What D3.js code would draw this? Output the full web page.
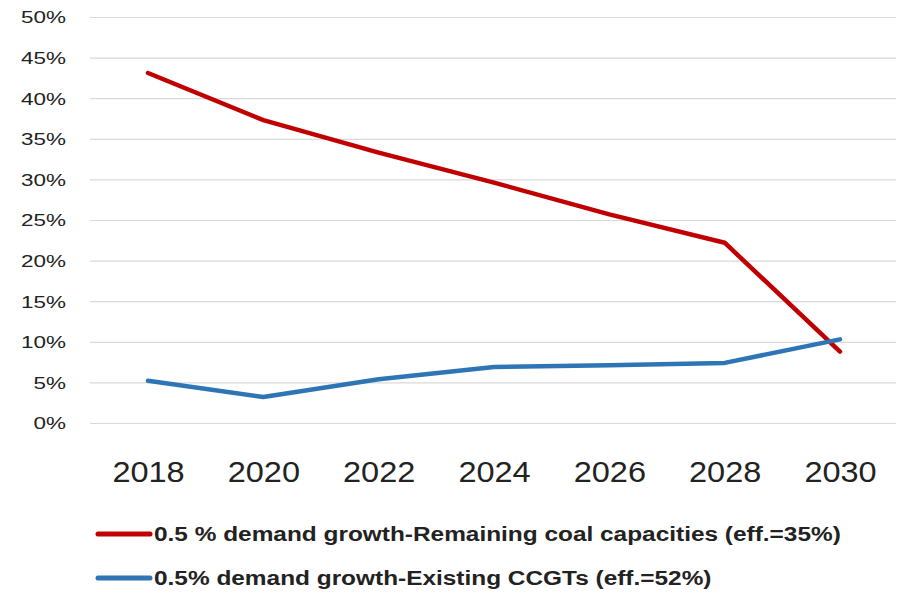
<!DOCTYPE html>
<html>
<head>
<meta charset="utf-8">
<script src="https://cdn.jsdelivr.net/npm/d3@7"></script>
<style>
  body { margin: 0; background: #fff; }
  text { font-family: "Liberation Sans", Arial, sans-serif; fill: #222; }
</style>
</head>
<body>
<div id="chart"></div>
<script>
// data
var years = [2018, 2020, 2022, 2024, 2026, 2028, 2030];
var coalShare = [0.431, 0.373, 0.333, 0.296, 0.257, 0.222, 0.088];
var ccgtShare = [0.052, 0.032, 0.054, 0.069, 0.071, 0.074, 0.103];
var yTicks = [0, 0.05, 0.10, 0.15, 0.20, 0.25, 0.30, 0.35, 0.40, 0.45, 0.50];
var seriesNames = [
  "0.5 % demand growth-Remaining coal capacities (eff.=35%)",
  "0.5% demand growth-Existing CCGTs (eff.=52%)"
];
var seriesColors = ["#C00000", "#2E75B6"];

var svg = d3.select("#chart")
  .append("svg")
  .attr("width", 901).attr("height", 596);

var x = d3.scalePoint().domain(years).range([148, 840]);
var y = d3.scaleLinear().domain([0, 0.5]).range([423, 17]);

// stretch text horizontally like the source image
function stretch(sel, k) {
  sel.each(function() {
    var w = this.getComputedTextLength();
    d3.select(this).attr("textLength", w * k).attr("lengthAdjust", "spacingAndGlyphs");
  });
}

// gridlines + y labels
var yAxis = svg.append("g")
  .attr("transform", "translate(90,0)")
  .call(d3.axisLeft(y).tickValues(yTicks).tickSize(-806).tickPadding(24)
    .tickFormat(d3.format(".0%")));
yAxis.select(".domain").remove();
yAxis.selectAll("line").attr("stroke", "#d9d9d9").attr("stroke-width", 1.2);
yAxis.selectAll("text").attr("font-size", 17).attr("dy", "0.35em")
  .style("font-family", "Liberation Sans, Arial, sans-serif").attr("fill", "#222");
stretch(yAxis.selectAll("text"), 1.32);

// x labels
var xAxis = svg.append("g")
  .attr("transform", "translate(0,440)")
  .call(d3.axisBottom(x).tickSize(0).tickPadding(0));
xAxis.select(".domain").remove();
xAxis.selectAll("text").attr("font-size", 29).attr("dy", "1.45em")
  .style("font-family", "Liberation Sans, Arial, sans-serif").attr("fill", "#222");
stretch(xAxis.selectAll("text"), 1.12);

var line = d3.line()
  .x(function(d, i) { return x(years[i]); })
  .y(function(d) { return y(d); });

svg.append("path").datum(coalShare)
  .attr("d", line).attr("fill", "none")
  .attr("stroke", seriesColors[0]).attr("stroke-width", 4.5)
  .attr("stroke-linecap", "round").attr("stroke-linejoin", "round");

svg.append("path").datum(ccgtShare)
  .attr("d", line).attr("fill", "none")
  .attr("stroke", seriesColors[1]).attr("stroke-width", 4.5)
  .attr("stroke-linecap", "round").attr("stroke-linejoin", "round");

// legend
var legend = svg.append("g").selectAll("g")
  .data(seriesNames).enter().append("g")
  .attr("transform", function(d, i) { return "translate(0," + (534 + i * 44) + ")"; });

legend.append("line")
  .attr("x1", 98).attr("x2", 150)
  .attr("stroke", function(d, i) { return seriesColors[i]; })
  .attr("stroke-width", 5).attr("stroke-linecap", "round");

legend.append("text")
  .attr("x", 154).attr("dy", "0.36em")
  .attr("font-size", 20).attr("font-weight", "bold")
  .text(function(d) { return d; });
stretch(legend.selectAll("text"), 1.22);
</script>
</body>
</html>
